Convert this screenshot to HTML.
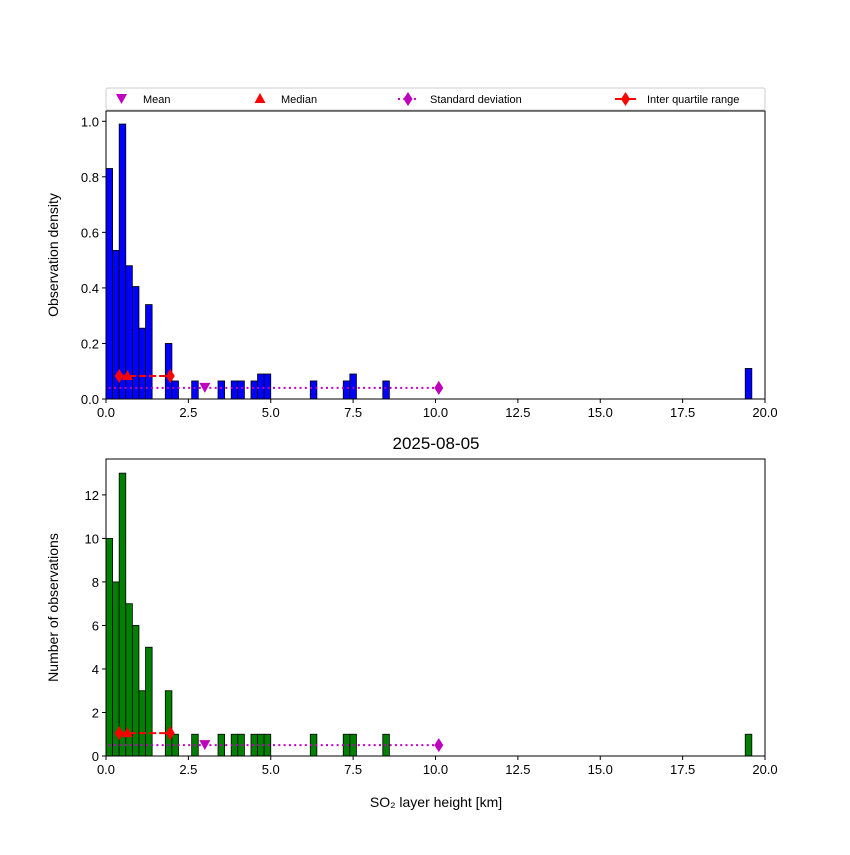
<!DOCTYPE html>
<html><head><meta charset="utf-8"><style>
body{margin:0;background:#fff}
svg text{font-family:"Liberation Sans","DejaVu Sans",sans-serif;fill:#000}
</style></head><body>
<svg id="c" width="850" height="850" xmlns="http://www.w3.org/2000/svg"></svg>
<script>
const binStarts=[0,0.2,0.4,0.6,0.8,1.0,1.2,1.8,2.0,2.6,3.4,3.8,4.0,4.4,4.6,4.8,6.2,7.2,7.4,8.4,19.4];
const counts=[10,8,13,7,6,3,5,3,1,1,1,1,1,1,1,1,1,1,1,1,1];
const densities=[0.83,0.535,0.99,0.48,0.405,0.255,0.34,0.2,0.065,0.065,0.065,0.065,0.065,0.065,0.09,0.09,0.065,0.065,0.09,0.065,0.11];
const binWidth=0.2;
const meanVal=3.0, medianVal=0.65, q1=0.4, q3=1.95, stdLo=-4.1, stdHi=10.1;
const topMarkY=[0.04,0.083];   // std line y, iqr y (density)
const botMarkY=[0.5,1.05];     // std line y, iqr y (counts)
const xTicks=[0,2.5,5,7.5,10,12.5,15,17.5,20];
const topTicks=[0,0.2,0.4,0.6,0.8,1.0];
const botTicks=[0,2,4,6,8,10,12];

const NS="http://www.w3.org/2000/svg";
const svg=document.getElementById('c');
function mk(tag,attrs,parent){const e=document.createElementNS(NS,tag);for(const k in attrs)e.setAttribute(k,attrs[k]);(parent||svg).appendChild(e);return e;}
const L=106,R=765;
const xs=v=>L+(v/20)*(R-L);

function panel(name,top,bottom,ymax,vals,color,ticks,fmt,markY,ylabel){
  const ys=v=>bottom-(v/ymax)*(bottom-top);
  const g=mk('g',{});
  
  
  const cid='clip-'+name;
  const cp=mk('clipPath',{id:cid},g);mk('rect',{x:L,y:top,width:R-L,height:bottom-top},cp);
  const bars=mk('g',{'clip-path':'url(#'+cid+')'},g);
  vals.forEach((v,i)=>{
    const r=mk('rect',{x:xs(binStarts[i]),y:ys(v),width:xs(binStarts[i]+binWidth)-xs(binStarts[i]),height:bottom-ys(v),fill:color,stroke:'#000','stroke-width':0.8},bars);
    
    
  });
  // std line
  const sy=ys(markY[0]);
  const sl=mk('line',{x1:xs(stdLo),x2:xs(stdHi),y1:sy,y2:sy,stroke:'#bf00bf','stroke-width':2,'stroke-dasharray':'2,3.3'},bars);
  
  
  [stdHi].forEach(v=>{const d=mk('path',{d:`M${xs(v)},${sy-7} L${xs(v)+4.5},${sy} L${xs(v)},${sy+7} L${xs(v)-4.5},${sy}Z`,fill:'#bf00bf'},bars);});
  // mean
  const mx=xs(meanVal);
  const mm=mk('path',{d:`M${mx-5.5},${sy-5} L${mx+5.5},${sy-5} L${mx},${sy+5}Z`,fill:'#bf00bf'},bars);
  
  
  // iqr
  const iy=ys(markY[1]);
  const il=mk('line',{x1:xs(q1),x2:xs(q3),y1:iy,y2:iy,stroke:'#f00','stroke-width':2,'stroke-dasharray':'7,3'},bars);
  
  
  [q1,q3].forEach(v=>{const d=mk('path',{d:`M${xs(v)},${iy-7} L${xs(v)+4.5},${iy} L${xs(v)},${iy+7} L${xs(v)-4.5},${iy}Z`,fill:'#f00'},bars);});
  const md=xs(medianVal);
  const me=mk('path',{d:`M${md},${iy-6} L${md+5.5},${iy+4} L${md-5.5},${iy+4}Z`,fill:'#f00'},bars);
  
  
  // frame
  mk('rect',{x:L,y:top,width:R-L,height:bottom-top,fill:'none',stroke:'#000','stroke-width':1},g);
  xTicks.forEach(t=>{mk('line',{x1:xs(t),x2:xs(t),y1:bottom,y2:bottom+4,stroke:'#000'},g);
    const tx=mk('text',{x:xs(t),y:bottom+18,'text-anchor':'middle','font-size':13},g);tx.textContent=t.toFixed(1);
    });
  ticks.forEach(t=>{mk('line',{x1:L-4,x2:L,y1:ys(t),y2:ys(t),stroke:'#000'},g);
    const tx=mk('text',{x:L-7,y:ys(t)+5,'text-anchor':'end','font-size':13},g);tx.textContent=fmt(t);
    });
  const yl=mk('text',{x:0,y:0,'text-anchor':'middle','font-size':14,transform:`translate(58,${(top+bottom)/2}) rotate(-90)`},g);
  yl.textContent=ylabel;
  
}
panel('density-panel',111,399,1.037,densities,'#0000ff',topTicks,t=>t.toFixed(1),topMarkY,'Observation density');
panel('count-panel',459,756,13.65,counts,'#008000',botTicks,t=>String(t),botMarkY,'Number of observations');

// title
const ti=mk('text',{x:436,y:449,'text-anchor':'middle','font-size':17});ti.textContent='2025-08-05';

const xl=mk('text',{x:436,y:807,'text-anchor':'middle','font-size':14});xl.textContent='SO₂ layer height [km]';


// legend
const lg=mk('g',{});


mk('rect',{x:106,y:88,width:659,height:22,fill:'#fff',stroke:'#ccc',rx:2},lg);
function le(label,x,draw){const g=mk('g',{},lg);draw(g);const t=mk('text',{x:x,y:103,'font-size':11},g);t.textContent=label;}
le('Mean',143,g=>mk('path',{d:'M116,94 L127,94 L121.5,104Z',fill:'#bf00bf'},g));
le('Median',281,g=>mk('path',{d:'M260,93 L265.5,103 L254.5,103Z',fill:'#f00'},g));
le('Standard deviation',430,g=>{mk('line',{x1:398,x2:418,y1:99,y2:99,stroke:'#bf00bf','stroke-width':2,'stroke-dasharray':'2,3.3'},g);mk('path',{d:'M408,92 L412.5,99 L408,106 L403.5,99Z',fill:'#bf00bf'},g);});
le('Inter quartile range',647,g=>{mk('line',{x1:615,x2:636,y1:99,y2:99,stroke:'#f00','stroke-width':2},g);mk('path',{d:'M625.5,92 L630,99 L625.5,106 L621,99Z',fill:'#f00'},g);});
</script>
</body></html>
